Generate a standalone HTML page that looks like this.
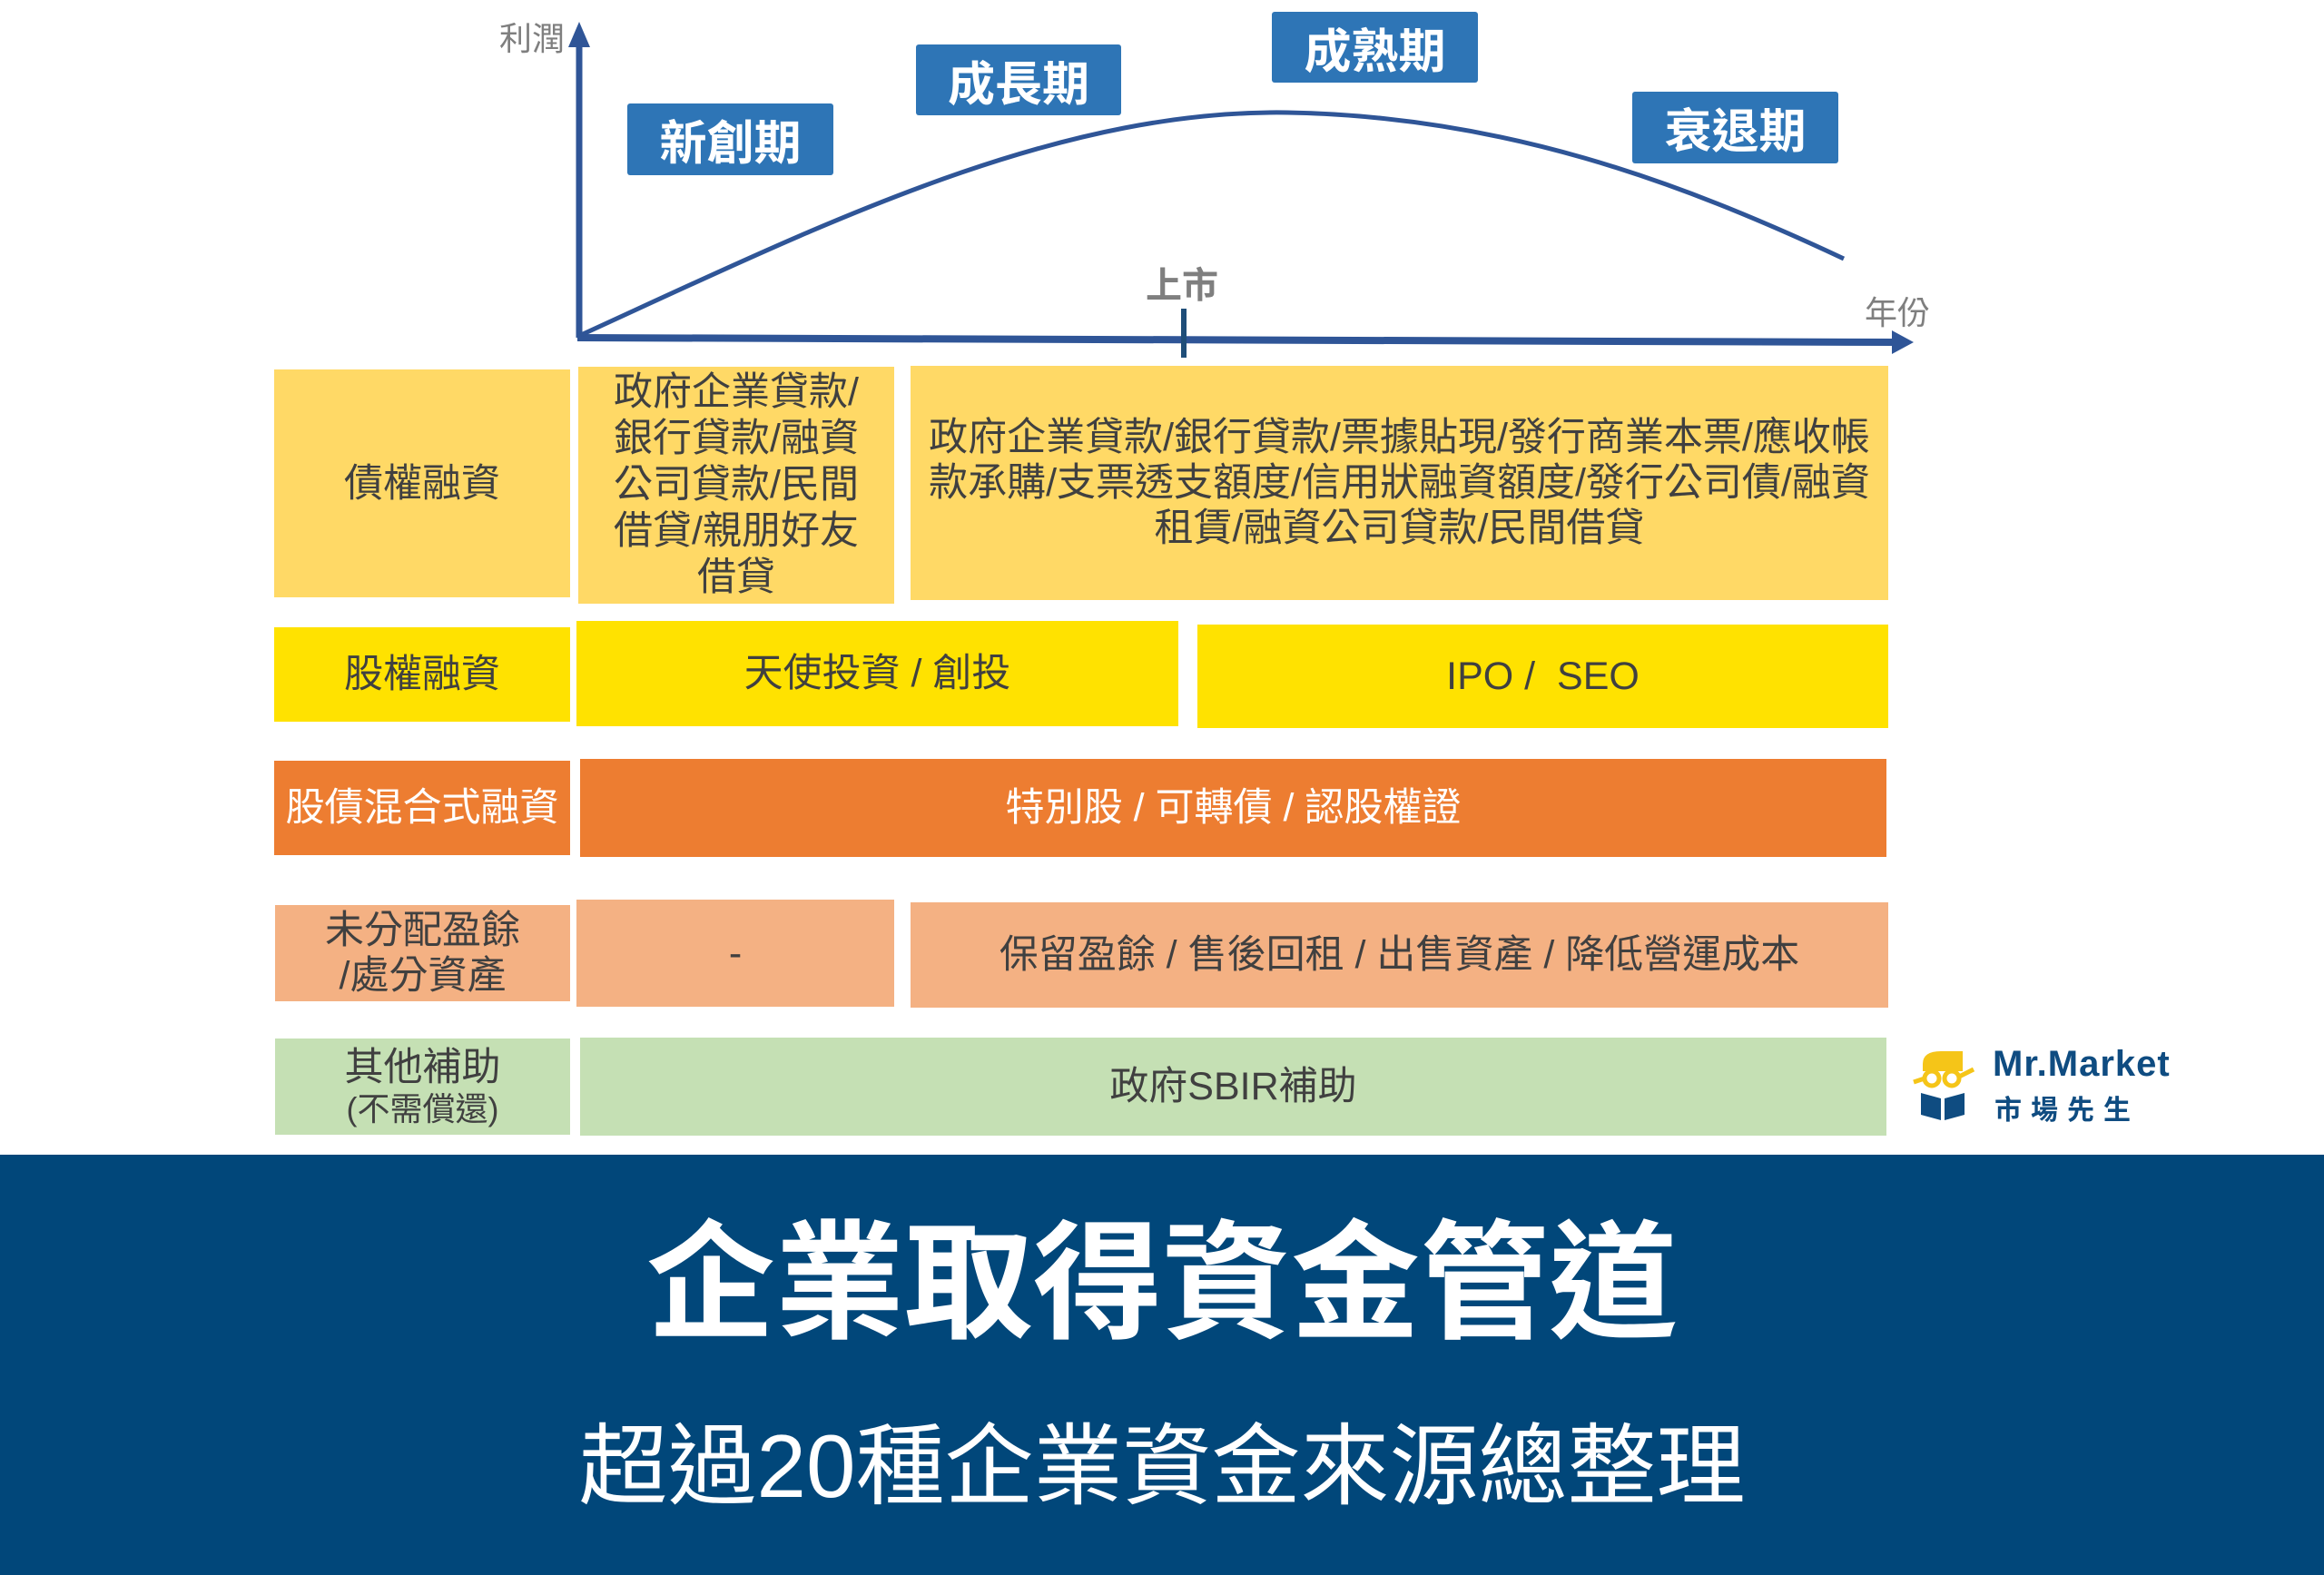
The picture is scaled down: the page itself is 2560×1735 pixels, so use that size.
<!DOCTYPE html>
<html><head><meta charset="utf-8"><style>
*{margin:0;padding:0;box-sizing:border-box}
body{width:2560px;height:1735px;background:#fff;position:relative;overflow:hidden;font-family:"Liberation Sans","Noto Sans CJK TC",sans-serif;color:#404040}
.b{position:absolute;display:flex;align-items:center;justify-content:center;text-align:center;font-size:43px;line-height:50px}
.st{position:absolute;background:#2E75B6;color:#fff;font-weight:bold;font-size:52px;display:flex;align-items:center;justify-content:center;border-radius:3px}
.y1{background:#FFD966}.y2{background:#FFE200}.o{background:#ED7D31;color:#fff}.p{background:#F4B183}.g{background:#C5E0B4}
</style></head><body>
<svg width="2560" height="420" style="position:absolute;left:0;top:0">
<line x1="638" y1="372" x2="638" y2="50" stroke="#2F5597" stroke-width="7"/>
<polygon points="638,24 626,52 650,52" fill="#2F5597"/>
<line x1="636" y1="372" x2="2086" y2="377" stroke="#2F5597" stroke-width="8"/>
<polygon points="2108,377 2084,364 2084,390" fill="#2F5597"/>
<line x1="1304" y1="340" x2="1304" y2="394" stroke="#1F4E79" stroke-width="6"/>
<path d="M640,369 C900,250 1160,120 1418,124 C1655,128 1850,200 2031,285" fill="none" stroke="#2F5597" stroke-width="5"/>
</svg>
<div style="position:absolute;left:550px;top:14px;font-size:36px;color:#7f7f7f">利潤</div>
<div style="position:absolute;left:2054px;top:316px;font-size:36px;color:#7f7f7f">年份</div>
<div style="position:absolute;left:1262px;top:282px;font-size:40px;color:#7f7f7f;font-weight:bold">上市</div>
<div class="st" style="left:691px;top:114px;width:227px;height:79px">新創期</div>
<div class="st" style="left:1009px;top:49px;width:226px;height:78px">成長期</div>
<div class="st" style="left:1401px;top:13px;width:227px;height:78px">成熟期</div>
<div class="st" style="left:1798px;top:101px;width:227px;height:79px">衰退期</div>

<div class="b y1" style="left:302px;top:407px;width:326px;height:251px">債權融資</div>
<div class="b y1" style="left:637px;top:404px;width:348px;height:261px;line-height:51px">政府企業貸款/<br>銀行貸款/融資<br>公司貸款/民間<br>借貸/親朋好友<br>借貸</div>
<div class="b y1" style="left:1003px;top:403px;width:1077px;height:258px;padding-bottom:0">政府企業貸款/銀行貸款/票據貼現/發行商業本票/應收帳<br>款承購/支票透支額度/信用狀融資額度/發行公司債/融資<br>租賃/融資公司貸款/民間借貸</div>

<div class="b y2" style="left:302px;top:691px;width:326px;height:104px">股權融資</div>
<div class="b y2" style="left:635px;top:684px;width:663px;height:116px">天使投資 / 創投</div>
<div class="b y2" style="left:1319px;top:688px;width:761px;height:114px">IPO /&nbsp; SEO</div>

<div class="b o" style="left:302px;top:838px;width:326px;height:104px">股債混合式融資</div>
<div class="b o" style="left:639px;top:836px;width:1439px;height:108px">特別股 / 可轉債 / 認股權證</div>

<div class="b p" style="left:303px;top:997px;width:325px;height:106px">未分配盈餘<br>/處分資產</div>
<div class="b p" style="left:635px;top:991px;width:350px;height:118px">-</div>
<div class="b p" style="left:1003px;top:994px;width:1077px;height:116px">保留盈餘 / 售後回租 / 出售資產 / 降低營運成本</div>

<div class="b g" style="left:303px;top:1144px;width:325px;height:106px;flex-direction:column"><span>其他補助</span><span style="font-size:36px;line-height:42px">(不需償還)</span></div>
<div class="b g" style="left:639px;top:1143px;width:1439px;height:108px">政府SBIR補助</div>

<svg width="80" height="90" style="position:absolute;left:2104px;top:1150px">
<path d="M14,22 Q14,8 34,8 L58,8 L58,30 L14,30 Z" fill="#F5C518"/>
<circle cx="24" cy="38" r="8" fill="none" stroke="#F5C518" stroke-width="5"/>
<circle cx="46" cy="38" r="8" fill="none" stroke="#F5C518" stroke-width="5"/>
<line x1="4" y1="42" x2="16" y2="38" stroke="#F5C518" stroke-width="5"/>
<line x1="54" y1="36" x2="70" y2="28" stroke="#F5C518" stroke-width="5"/>
<path d="M12,54 L34,60 L34,84 L12,78 Z M38,60 L60,54 L60,78 L38,84 Z" fill="#0F4C81"/>
</svg>
<div style="position:absolute;left:2195px;top:1150px;font-size:40px;font-weight:bold;color:#0F4C81;letter-spacing:1px">Mr.Market</div>
<div style="position:absolute;left:2197px;top:1198px;font-size:30px;font-weight:bold;color:#0F4C81;letter-spacing:10px">市場先生</div>

<div style="position:absolute;left:0;top:1272px;width:2560px;height:463px;background:#01477A"></div>
<div style="position:absolute;left:0;top:1330px;width:2560px;text-align:center;color:#fff;font-weight:bold;font-size:142px;line-height:170px">企業取得資金管道</div>
<div style="position:absolute;left:0;top:1555px;width:2560px;text-align:center;color:#fff;font-size:98px;line-height:120px">超過20種企業資金來源總整理</div>
</body></html>
